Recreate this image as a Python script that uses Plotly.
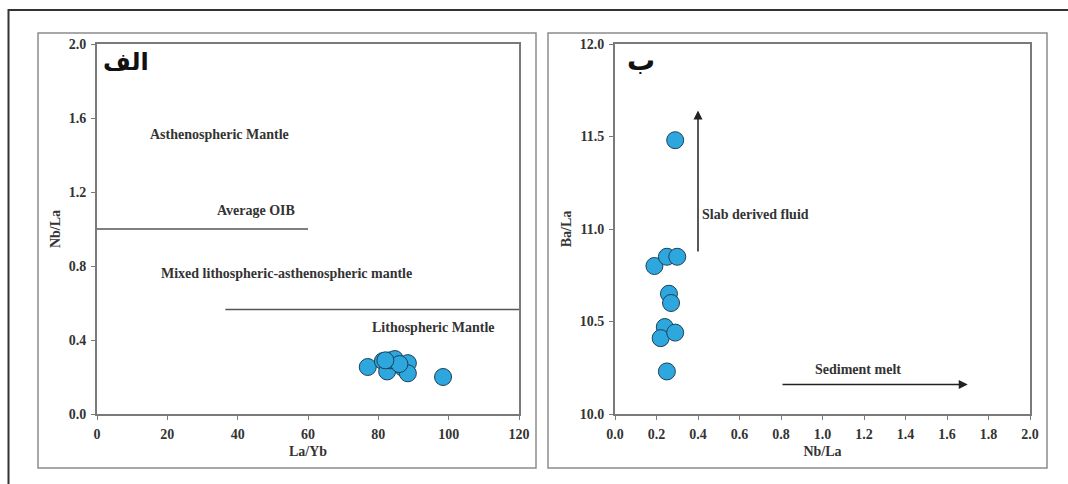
import plotly.graph_objects as go

FW, FH = 1068, 484

# ---- data ----
la_yb = [77.0, 81.3, 82.5, 83.3, 84.7, 87.0, 88.4, 88.4, 98.4, 86.0, 82.0]
nb_la_a = [0.254, 0.286, 0.23, 0.29, 0.297, 0.25, 0.275, 0.22, 0.20, 0.27, 0.29]

nb_la_b = [0.19, 0.25, 0.30, 0.26, 0.27, 0.24, 0.22, 0.29, 0.25, 0.29]
ba_la = [10.80, 10.85, 10.85, 10.65, 10.60, 10.47, 10.41, 10.44, 10.23, 11.48]

left_x_ticks = [0, 20, 40, 60, 80, 100, 120]
left_y_ticks = [0.0, 0.4, 0.8, 1.2, 1.6, 2.0]
right_x_ticks = [0.0, 0.2, 0.4, 0.6, 0.8, 1.0, 1.2, 1.4, 1.6, 1.8, 2.0]
right_y_ticks = [10.0, 10.5, 11.0, 11.5, 12.0]

oib_line_x = [0, 60]
oib_line_y = [1.0, 1.0]
litho_line_x = [36.5, 120]
litho_line_y = [0.565, 0.565]

region_labels = ["Asthenospheric Mantle", "Average OIB",
                 "Mixed lithospheric-asthenospheric mantle", "Lithospheric Mantle"]
region_x = [34.7, 45.2, 54.0, 95.8]
region_y = [1.51, 1.10, 0.76, 0.47]

# ---- styling ----
SERIF = "Liberation Serif"
TXT = "#333333"
AX = "#7a7a7a"
MK = dict(size=17, color="#2ea7de", line=dict(color="#1d4157", width=1))


def px(x):
    return x / FW


def py(y):
    return 1 - y / FH


fig = go.Figure()

fig.add_trace(go.Scatter(x=la_yb, y=nb_la_a, mode="markers", marker=MK,
                         xaxis="x", yaxis="y", showlegend=False))
fig.add_trace(go.Scatter(x=oib_line_x, y=oib_line_y, mode="lines",
                         line=dict(color="#555555", width=1.5),
                         xaxis="x", yaxis="y", showlegend=False))
fig.add_trace(go.Scatter(x=litho_line_x, y=litho_line_y, mode="lines",
                         line=dict(color="#555555", width=1.5),
                         xaxis="x", yaxis="y", showlegend=False))
fig.add_trace(go.Scatter(x=nb_la_b, y=ba_la, mode="markers", marker=MK,
                         xaxis="x2", yaxis="y2", showlegend=False))

tickfont = dict(family=SERIF, size=14, color=TXT, weight="bold")
titlefont = dict(family=SERIF, size=14, color=TXT, weight="bold")

common = dict(showline=True, mirror=True, linecolor=AX, linewidth=2,
              ticks="outside", ticklen=4, tickcolor=AX, tickwidth=1,
              showgrid=False, zeroline=False, tickfont=tickfont,
              ticklabelstandoff=2, automargin=False)

fig.update_layout(
    width=FW, height=FH,
    margin=dict(l=0, r=0, t=0, b=0),
    paper_bgcolor="white", plot_bgcolor="white",
    xaxis=dict(domain=[px(97), px(519)], range=[0, 120], tickvals=left_x_ticks,
               title=dict(text="La/Yb", font=titlefont, standoff=5), anchor="y", **common),
    yaxis=dict(domain=[py(414), py(44)], range=[0, 2], tickvals=left_y_ticks,
               tickformat=".1f",
               title=dict(text="Nb/La", font=titlefont, standoff=5), anchor="x", **common),
    xaxis2=dict(domain=[px(615), px(1030)], range=[0, 2], tickvals=right_x_ticks,
                tickformat=".1f",
                title=dict(text="Nb/La", font=titlefont, standoff=5), anchor="y2", **common),
    yaxis2=dict(domain=[py(414), py(44)], range=[10, 12], tickvals=right_y_ticks,
                tickformat=".1f",
                title=dict(text="Ba/La", font=titlefont, standoff=5), anchor="x2", **common),
)

# panel boxes and outer frame
shapes = [
    dict(type="rect", xref="paper", yref="paper", x0=px(38), x1=px(536), y0=py(468), y1=py(33),
         line=dict(color="#8c8c8c", width=1.5)),
    dict(type="rect", xref="paper", yref="paper", x0=px(548), x1=px(1047), y0=py(468), y1=py(33),
         line=dict(color="#8c8c8c", width=1.5)),
    dict(type="path", xref="paper", yref="paper",
         path=f"M {px(8.5)} {py(484)} L {px(8.5)} {py(10)} L {px(1068)} {py(10)}",
         line=dict(color="#333333", width=2)),
]
fig.update_layout(shapes=shapes)

annos = []
for t, x, y in zip(region_labels, region_x, region_y):
    annos.append(dict(text=t, x=x, y=y, xref="x", yref="y", showarrow=False,
                      font=dict(family=SERIF, size=14, color=TXT, weight="bold")))

# Arabic panel labels
annos.append(dict(text="الف", x=px(101), y=py(46), xref="paper", yref="paper",
                  xanchor="left", yanchor="top", showarrow=False,
                  font=dict(family="DejaVu Sans", size=24, color="#111111", weight="bold")))
annos.append(dict(text="ب", x=px(625), y=py(42), xref="paper", yref="paper",
                  xanchor="left", yanchor="top", showarrow=False,
                  font=dict(family="DejaVu Sans", size=28, color="#111111", weight="bold")))

# arrows in right panel
annos.append(dict(x=0.4, y=11.64, ax=0.4, ay=10.87, xref="x2", yref="y2",
                  axref="x2", ayref="y2", showarrow=True, arrowhead=2, arrowsize=1.2,
                  arrowwidth=1.5, arrowcolor="#222222", text=""))
annos.append(dict(x=1.70, y=10.16, ax=0.80, ay=10.16, xref="x2", yref="y2",
                  axref="x2", ayref="y2", showarrow=True, arrowhead=2, arrowsize=1.2,
                  arrowwidth=1.5, arrowcolor="#222222", text=""))
annos.append(dict(text="Slab derived fluid", x=0.41, y=11.08, xref="x2", yref="y2",
                  xanchor="left", showarrow=False,
                  font=dict(family=SERIF, size=14, color=TXT, weight="bold")))
annos.append(dict(text="Sediment melt", x=1.17, y=10.24, xref="x2", yref="y2",
                  showarrow=False,
                  font=dict(family=SERIF, size=14, color=TXT, weight="bold")))

fig.update_layout(annotations=annos)

fig.write_html("out.html")
